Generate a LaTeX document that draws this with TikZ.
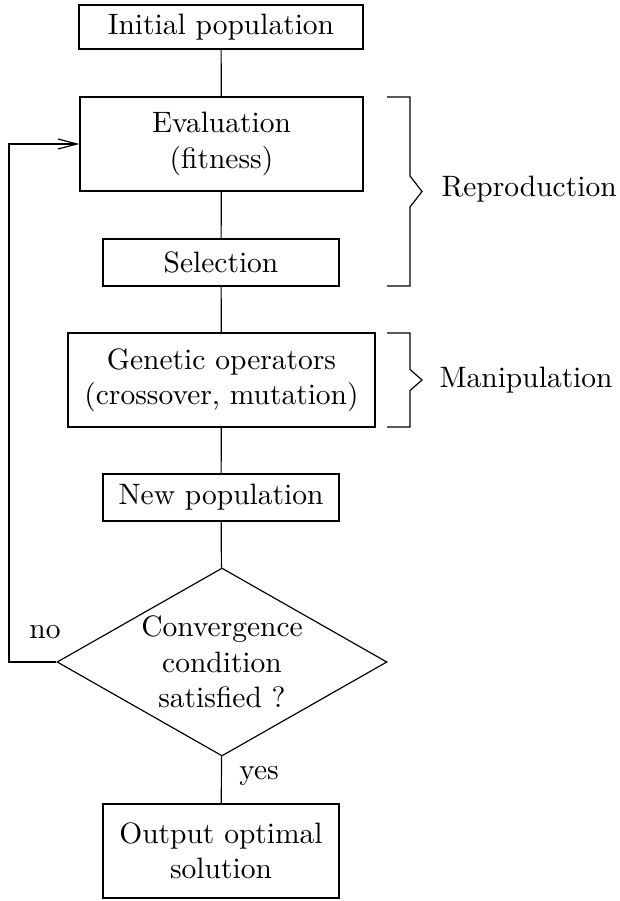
\documentclass[tikz,border=0pt]{standalone}
\usetikzlibrary{shapes.geometric,arrows.meta}
\newcommand\pxu{0.339pt}
\begin{document}
\begin{tikzpicture}[x=0.339pt,y=-0.339pt,
  line width=0.4pt,
  box/.style={draw,rectangle,align=center,inner sep=0pt},
  link/.style={draw},
  bracepath/.style={draw,line join=miter},
  lbl/.style={inner sep=0pt}]
\useasboundingbox (0,0) rectangle (619,901);
\node[box,minimum width=284*\pxu,minimum height=44*\pxu] (init) at (221,27) {Initial population};
\node[box,minimum width=283*\pxu,minimum height=94*\pxu] (eval) at (221.5,144) {Evaluation\\(fitness)};
\node[box,minimum width=236*\pxu,minimum height=47*\pxu] (sel) at (221,262.5) {Selection};
\node[box,minimum width=307*\pxu,minimum height=94*\pxu] (gen) at (221.5,380) {Genetic operators\\(crossover, mutation)};
\node[box,minimum width=236*\pxu,minimum height=47*\pxu] (new) at (221,497.5) {New population};
\node[draw,diamond,aspect=1.755,inner sep=0pt,minimum width=330*\pxu,minimum height=188*\pxu,align=center] (dia) at (222,662) {Convergence\\condition\\satisfied ?};
\node[box,minimum width=236*\pxu,minimum height=94*\pxu] (out) at (221,851) {Output optimal\\solution};
\draw[link] (init) -- (eval);
\draw[link] (eval) -- (sel);
\draw[link] (sel) -- (gen);
\draw[link] (gen) -- (new);
\draw[link] (new) -- (dia);
\draw[link] (dia) -- (out);
\coordinate (fb) at (9,0);
\draw[link,-{Straight Barb[length=6.5pt,width=3.4pt]}] (dia.west) -| (fb |- eval.west) -- (eval.west);
\node[lbl] (no) at (45,632) {no};
\node[lbl] (yes) at (259,776) {yes};
% braces
\draw[bracepath] (387,97) -- (410,97) -- (410,176) -- (422,191.5) -- (410,207) -- (410,286) -- (387,286);
\node[lbl,anchor=base west] (rep) at (441,197) {Reproduction};
\draw[bracepath] (387,333) -- (410,333) -- (410,369.5) -- (422,380) -- (410,390.5) -- (410,427) -- (387,427);
\node[lbl,anchor=base west] (man) at (439,387) {Manipulation};
\end{tikzpicture}
\end{document}
